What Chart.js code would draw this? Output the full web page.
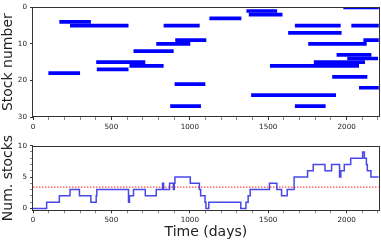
<!DOCTYPE html>
<html>
<head>
<meta charset="utf-8">
<script src="https://cdn.jsdelivr.net/npm/chart.js@4"></script>
<style>
  html, body { margin: 0; padding: 0; background: #fff; }
  #wrap { position: relative; width: 381px; height: 242px; }
  canvas { position: absolute; left: 0; }
</style>
</head>
<body>
<div id="wrap">
  <canvas id="holdChart" style="top:0;width:381px;height:133px" width="381" height="133"></canvas>
  <canvas id="countChart" style="top:133px;width:381px;height:109px" width="381" height="109"></canvas>
</div>
<script>
// holding periods: stock number, first day, last day
const holdStock = [0, 1, 2, 3, 4, 5, 5, 5, 5, 7, 9, 9, 10, 10, 12, 13, 14, 15, 15, 16, 16, 17, 18, 19, 21, 22, 24, 27, 27];
const holdStart = [1979, 1361, 1376, 1125, 168, 236, 833, 1670, 2030, 1627, 907, 2107, 786, 1755, 641, 1936, 2004, 403, 1791, 615, 1511, 407, 98, 1908, 903, 2079, 1391, 875, 1670];
const holdEnd   = [2211, 1557, 1591, 1329, 369, 609, 1063, 1962, 2211, 1968, 1105, 2211, 1003, 2128, 897, 2158, 2200, 716, 2117, 833, 2079, 609, 300, 2132, 1099, 2211, 1932, 1071, 1866];

// number of stocks held (day where the count changes, new count)
const stepDays   = [0, 87, 168, 236, 296, 369, 403, 407, 609, 615, 641, 716, 786, 826, 833, 871, 895, 901, 905, 1003, 1061, 1069, 1097, 1103, 1121, 1325, 1358, 1372, 1385, 1508, 1555, 1585, 1621, 1665, 1751, 1787, 1862, 1904, 1955, 1963, 1985, 2026, 2102, 2113, 2126, 2132, 2155, 2205];
const stepCounts = [0, 1, 2, 3, 2, 1, 2, 3, 1, 2, 3, 2, 3, 4, 3, 4, 3, 4, 5, 4, 3, 2, 1, 0, 1, 0, 1, 2, 3, 4, 3, 2, 3, 5, 6, 7, 6, 7, 5, 6, 7, 8, 9, 8, 7, 6, 5, 5];

const meanStocks = 3.4;
const timeMax = 2205;

// tick labels
const xTickLabels = [0, 500, 1000, 1500, 2000];
const xMinorStep = 100;
const stockTicks = [0, 10, 20, 30];
const countTickLabels = [0, 5, 10];

const FONT = "DejaVu Sans";
const TXT = "#222";

// box round the plot area
const frame = {
  id: "frame",
  afterDraw(chart) {
    const a = chart.chartArea, g = chart.ctx;
    g.save();
    g.strokeStyle = "#333";
    g.lineWidth = 1;
    g.strokeRect(Math.round(a.left) - 0.5, Math.round(a.top) + 0.5,
      Math.round(a.right - a.left) + 1, Math.round(a.bottom - a.top) - 1);
    g.restore();
  },
};

function xScale(h) {
  const vals = [];
  for (let v = 0; v <= timeMax; v += xMinorStep) vals.push(v);
  return {
    type: "linear",
    min: 0,
    max: timeMax,
    border: { display: false },
    grid: {
      drawOnChartArea: false,
      tickLength: 3,
      tickColor: (c) => (c.tick && xTickLabels.includes(c.tick.value) ? "#333" : "#888"),
    },
    afterBuildTicks: (s) => { s.ticks = vals.map((v) => ({ value: v })); },
    ticks: {
      autoSkip: false,
      maxRotation: 0,
      padding: 3,
      color: TXT,
      font: { family: FONT, size: 7.2 },
      callback: (v) => (xTickLabels.includes(v) ? String(v) : ""),
    },
    afterFit: (s) => { s.height = h; },
  };
}

// top: holding periods
const holdSets = holdStock.map((s, i) => ({
  data: [{ x: holdStart[i], y: s }, { x: holdEnd[i], y: s }],
  borderColor: "#0000ff",
  borderWidth: 3.7,
  borderCapStyle: "butt",
  pointRadius: 0,
  tension: 0,
}));

new Chart(document.getElementById("holdChart"), {
  type: "line",
  data: { datasets: holdSets },
  options: {
    responsive: false,
    animation: false,
    layout: { padding: { top: 6, right: 2, left: 0, bottom: 0 } },
    plugins: { legend: { display: false }, tooltip: { enabled: false } },
    scales: {
      x: xScale(16),
      y: {
        type: "linear",
        min: 0,
        max: 30,
        reverse: true,
        border: { display: false },
        grid: { drawOnChartArea: false, tickLength: 3, tickColor: "#333" },
        afterBuildTicks: (s) => { s.ticks = stockTicks.map((v) => ({ value: v })); },
        ticks: {
          padding: 3,
          color: TXT,
          font: { family: FONT, size: 7.2 },
        },
        title: {
          display: true,
          text: "Stock number",
          color: TXT,
          padding: 0,
          font: { family: FONT, size: 14 },
        },
        afterFit: (s) => { s.width = 33; },
      },
    },
  },
  plugins: [frame],
});

// bottom: number of stocks held
const countPoints = stepDays.map((d, i) => ({ x: d, y: stepCounts[i] }));

const countX = xScale(31.7);
countX.title = {
  display: true,
  text: "Time (days)",
  color: TXT,
  padding: { top: 0, bottom: 1 },
  font: { family: FONT, size: 14 },
};

new Chart(document.getElementById("countChart"), {
  type: "line",
  data: {
    datasets: [
      {
        data: countPoints,
        stepped: "before",
        borderColor: "rgba(40, 40, 230, 0.85)",
        borderWidth: 1.5,
        pointRadius: 0,
      },
      {
        data: [{ x: 0, y: meanStocks }, { x: timeMax, y: meanStocks }],
        borderColor: "rgba(255, 0, 0, 0.9)",
        borderWidth: 1,
        borderDash: [1.5, 1.5],
        pointRadius: 0,
      },
    ],
  },
  options: {
    responsive: false,
    animation: false,
    layout: { padding: { top: 12.7, right: 2, left: 0, bottom: 0 } },
    plugins: { legend: { display: false }, tooltip: { enabled: false } },
    scales: {
      x: countX,
      y: {
        type: "linear",
        min: -0.3,
        max: 10,
        border: { display: false },
        grid: {
          drawOnChartArea: false,
          tickLength: 3,
          tickColor: (c) => (c.tick && countTickLabels.includes(c.tick.value) ? "#333" : "#888"),
        },
        afterBuildTicks: (s) => {
          const t = [];
          for (let v = 0; v <= 10; v++) t.push({ value: v });
          s.ticks = t;
        },
        ticks: {
          autoSkip: false,
          padding: 3,
          color: TXT,
          font: { family: FONT, size: 7.2 },
          callback: (v) => (countTickLabels.includes(v) ? String(v) : ""),
        },
        title: {
          display: true,
          text: "Num. stocks",
          color: TXT,
          padding: 0,
          font: { family: FONT, size: 14 },
        },
        afterFit: (s) => { s.width = 33; },
      },
    },
  },
  plugins: [frame],
});
</script>
</body>
</html>
